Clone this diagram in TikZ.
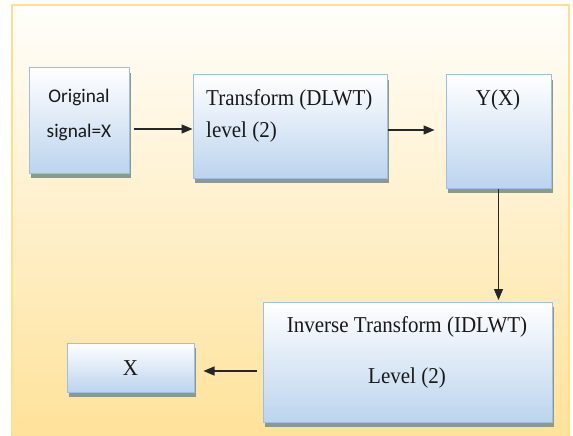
\documentclass[tikz,border=0pt]{standalone}
\usepackage{fontspec}
\setmainfont{Liberation Serif}
\newfontfamily\calfont{Carlito}
\usetikzlibrary{arrows.meta,calc}
\definecolor{bgtop}{HTML}{FFFEFB}
\definecolor{bgmid}{HTML}{FEF2D8}
\definecolor{bgbot}{HTML}{FFE29A}
\definecolor{framec}{HTML}{FFDF8A}
\definecolor{boxbot}{HTML}{BCD4EE}
\definecolor{boxline}{HTML}{9EBFE3}
\definecolor{shadowc}{HTML}{8B9A8E}
\newcommand\tallstr[1]{\scalebox{1}[1.08]{#1}}
\tikzset{
  blk/.style={draw=boxline, line width=1pt, top color=white, bottom color=boxbot, inner sep=0pt,
    preaction={fill=shadowc, transform canvas={xshift=1.5pt,yshift=-5pt}}},
  conn/.style={line width=1.3pt, draw=black!85, -{Triangle[length=11pt,width=9pt]}},
  serif/.style={font=\fontsize{21}{24}\selectfont, inner sep=0pt, text=black!90},
  sans/.style={font=\calfont\fontsize{19.3}{22}\selectfont, inner sep=0pt, text=black!90}
}
\begin{document}
\begin{tikzpicture}[x=1pt,y=-1pt]
\useasboundingbox (0,0) rectangle (573,436);
\shade[top color=bgtop, middle color=bgmid, bottom color=bgbot] (12,5) rectangle (569,436);
\draw[framec, line width=2pt] (12,436) -- (12,5) -- (569,5) -- (569,436);

\node[blk, minimum width=100pt, minimum height=105pt] (b1) at (79,120.5) {};
\node[blk, minimum width=194pt, minimum height=103pt] (b2) at (290,126.5) {};
\node[blk, minimum width=105pt, minimum height=113pt] (b3) at (498.5,131.5) {};
\node[blk, minimum width=289pt, minimum height=120pt] (b4) at (407.5,362) {};
\node[blk, minimum width=127pt, minimum height=49pt] (b5) at (130.5,367.5) {};

\node[sans] (t1a) at (79,97) {Original};
\node[sans] (t1b) at (79,132) {signal=X};
\node[serif, anchor=west] (t2a) at (206,100) {\tallstr{Transform (DLWT)}};
\node[serif, anchor=west] (t2b) at (206,132) {\tallstr{level (2)}};
\node[serif] (t3) at (498,100) {\tallstr{Y(X)}};
\node[serif] (t4a) at (407,327) {\tallstr{Inverse Transform (IDLWT)}};
\node[serif] (t4b) at (407,378) {\tallstr{Level (2)}};
\node[serif] (t5) at (130.5,368) {\tallstr{X}};

\draw[conn] ([xshift=4pt,yshift=-8.5pt]b1.east) -- ([yshift=-8.5pt]b1.east -| b2.west);
\draw[conn, shorten >=11pt] ([yshift=-3.5pt]b2.east) -- ([yshift=-3.5pt]b2.east -| b3.west);
\draw[conn, shorten >=1.5pt] (b3.south) -- (b3.south |- b4.north);
\draw[conn, shorten >=9pt] ([xshift=-6pt,yshift=-9pt]b4.west) -- ([yshift=-9pt]b4.west -| b5.east);
\end{tikzpicture}
\end{document}
